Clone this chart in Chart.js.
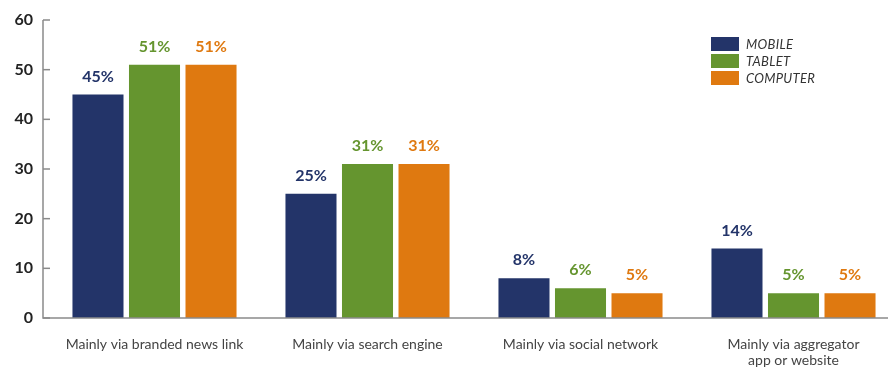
<!DOCTYPE html>
<html>
<head>
<meta charset="utf-8">
<script src="https://cdn.jsdelivr.net/npm/chart.js@4"></script>
<style>
  body { margin: 0; overflow: hidden; background: #fff; font-family: Lato, sans-serif; }
  #wrap { position: relative; width: 900px; height: 367px; }
  #legend { position: absolute; left: 711px; top: 36px; }
  .item { display: flex; align-items: center; height: 16.7px; }
  .box { width: 28px; height: 14px; margin-right: 7px; }
  .lbl { font-style: italic; font-size: 13px; color: #333; letter-spacing: 0.3px; }
</style>
</head>
<body>
<div id="wrap">
  <canvas id="chart"></canvas>
  <div id="legend"></div>
</div>
<script>
const categories = [
  'Mainly via branded news link',
  'Mainly via search engine',
  'Mainly via social network',
  ['Mainly via aggregator', 'app or website']
];
const seriesNames = ['MOBILE', 'TABLET', 'COMPUTER'];
const mobile = [45, 25, 8, 14];
const tablet = [51, 31, 6, 5];
const computer = [51, 31, 5, 5];
const yTicks = [0, 10, 20, 30, 40, 50, 60];
const colors = ['#233469', '#65952f', '#df7910'];

const values = [mobile, tablet, computer];
const AXIS_SHIFT = 5; // axis line sits a few px left of the plot area

// value labels above each bar, in the bar colour
const barLabels = {
  id: 'barLabels',
  afterDatasetsDraw(chart) {
    const ctx = chart.ctx;
    ctx.save();
    ctx.font = 'bold 16px Lato, sans-serif';
    ctx.textAlign = 'center';
    ctx.textBaseline = 'middle';
    chart.data.datasets.forEach((ds, i) => {
      chart.getDatasetMeta(i).data.forEach((bar, j) => {
        ctx.fillStyle = ds.backgroundColor;
        ctx.fillText(ds.data[j] + '%', bar.x, bar.y - 18);
      });
    });
    ctx.restore();
  }
};

// axis lines and small ticks pointing into the plot
const axisLines = {
  id: 'axisLines',
  afterDraw(chart) {
    const y = chart.scales.y;
    const x = chart.scales.x;
    const ctx = chart.ctx;
    const ax = y.right - AXIS_SHIFT;
    const y0 = y.getPixelForValue(0);
    ctx.save();
    ctx.strokeStyle = '#8a8a8a';
    ctx.lineWidth = 1.5;
    ctx.beginPath();
    ctx.moveTo(ax, y.getPixelForValue(60));
    ctx.lineTo(ax, y0);
    ctx.lineTo(x.right, y0);
    ctx.stroke();
    y.ticks.forEach(t => {
      const py = y.getPixelForValue(t.value);
      ctx.beginPath();
      ctx.moveTo(ax, py);
      ctx.lineTo(ax + 7, py);
      ctx.stroke();
    });
    ctx.restore();
  }
};

const chart = new Chart(document.getElementById('chart'), {
  type: 'bar',
  data: {
    labels: categories,
    datasets: seriesNames.map((name, i) => ({
      label: name,
      data: values[i],
      backgroundColor: colors[i],
      categoryPercentage: 0.796,
      barPercentage: 0.903
    }))
  },
  options: {
    responsive: true,
    maintainAspectRatio: false,
    animation: false,
    layout: { padding: { top: 20, right: 0, left: 0, bottom: 0 } },
    plugins: {
      legend: { display: false },
      tooltip: { enabled: false }
    },
    scales: {
      x: {
        grid: { display: false, drawTicks: false },
        border: { display: false },
        ticks: {
          color: '#444',
          font: { family: 'Lato, sans-serif', size: 14, lineHeight: 1.1 },
          padding: 19,
          maxRotation: 0
        },
        afterFit(scale) { scale.height = 49; scale.paddingLeft = 0; scale.paddingRight = 0; }
      },
      y: {
        min: 0,
        max: 60,
        afterBuildTicks(scale) { scale.ticks = yTicks.map(v => ({ value: v })); },
        grid: { display: false, drawTicks: false },
        border: { display: false },
        ticks: {
          color: '#222',
          font: { family: 'Lato, sans-serif', size: 16, weight: 'bold' },
          padding: 10 + AXIS_SHIFT
        },
        afterFit(scale) { scale.width = 43 + AXIS_SHIFT; scale.paddingTop = 0; scale.paddingBottom = 0; }
      }
    }
  },
  plugins: [barLabels, axisLines]
});

// legend
const legend = document.getElementById('legend');
seriesNames.forEach((name, i) => {
  const row = document.createElement('div');
  row.className = 'item';
  row.innerHTML = '<div class="box" style="background:' + colors[i] + '"></div><span class="lbl">' + name + '</span>';
  legend.appendChild(row);
});
</script>
</body>
</html>
